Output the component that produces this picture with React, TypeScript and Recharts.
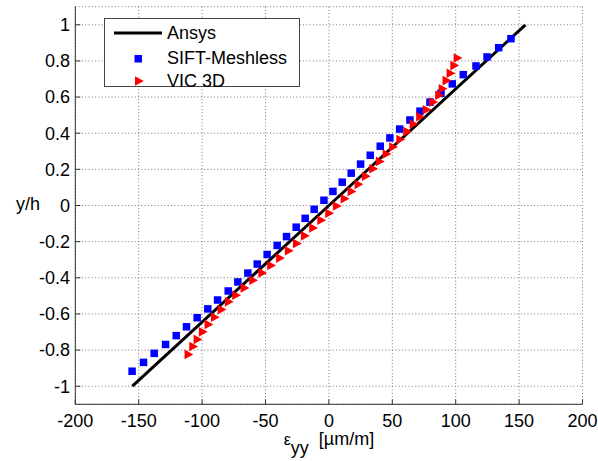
import { ScatterChart, Scatter, XAxis, YAxis, CartesianGrid, Legend } from 'recharts';

const ansysX = [-155, 0, 155];
const ansysY = [-1, 0, 1];

const siftX = [
  -155.2, -146.2, -137.8, -128.8, -120.4, -112.3, -103.9, -95.5, -87.8, -79.4,
  -71.8, -63.9, -56.5, -48.7, -40.8, -33.4, -25.8, -18.7, -11.6, -3.9,
  3.2, 10.5, 17.6, 25, 32.6, 40.5, 48.1, 55.8, 63.9, 71.8,
  79.7, 88.4, 97.3, 106, 116, 124.7, 133.9, 143.6,
];
const siftY = [
  -0.917, -0.868, -0.818, -0.769, -0.72, -0.671, -0.621, -0.572, -0.523, -0.473,
  -0.423, -0.374, -0.324, -0.271, -0.221, -0.172, -0.12, -0.071, -0.021, 0.029,
  0.078, 0.129, 0.179, 0.229, 0.278, 0.328, 0.374, 0.423, 0.473, 0.522,
  0.572, 0.621, 0.673, 0.724, 0.772, 0.822, 0.873, 0.923,
];

const vicX = [
  -110.7, -107, -103.6, -99.4, -94.9, -89.9, -84.6, -78.9, -73.1, -66.5,
  -59.7, -52.5, -45.5, -38.5, -31.6, -25.2, -18.9, -12.4, -6, 0.3,
  6.3, 12.4, 17.9, 23.4, 29.2, 35, 40.2, 45.5, 50.7, 56.3,
  61.8, 66.8, 72, 77.1, 82.3, 87, 89.7, 92.8, 96, 98.9, 101.5,
];
const vicY = [
  -0.824, -0.78, -0.741, -0.699, -0.658, -0.618, -0.576, -0.533, -0.497, -0.456,
  -0.414, -0.373, -0.332, -0.291, -0.25, -0.21, -0.168, -0.124, -0.082, -0.043,
  -0.003, 0.037, 0.078, 0.117, 0.162, 0.203, 0.244, 0.285, 0.324, 0.365,
  0.409, 0.451, 0.491, 0.53, 0.572, 0.61, 0.646, 0.691, 0.732, 0.774, 0.816,
];

const xTicks = [-200, -150, -100, -50, 0, 50, 100, 150, 200];
const yTicks = [-1, -0.8, -0.6, -0.4, -0.2, 0, 0.2, 0.4, 0.6, 0.8, 1];

const toPoints = (xs: number[], ys: number[]) => xs.map((x, i) => ({ x, y: ys[i] }));

const ansys = toPoints(ansysX, ansysY);
const sift = toPoints(siftX, siftY);
const vic = toPoints(vicX, vicY);

const FONT = '"Liberation Sans", Arial, sans-serif';
const AXIS = '#333';

const Square = (p: any) => (
  <rect x={p.cx - 3.75} y={p.cy - 3.75} width={7.5} height={7.5} fill="#0000ff" />
);

const Triangle = (p: any) => (
  <polygon
    points={`${p.cx - 4},${p.cy - 4.8} ${p.cx - 4},${p.cy + 4.8} ${p.cx + 4.8},${p.cy}`}
    fill="#ff0000"
  />
);

function LegendBox() {
  return (
    <div
      style={{
        width: 196,
        height: 69,
        boxSizing: 'border-box',
        border: '1px solid #444',
        background: '#fff',
        position: 'relative',
        fontFamily: FONT,
        fontSize: 18,
        color: '#000',
      }}
    >
      <svg width={60} height={69} style={{ position: 'absolute', left: 0, top: 0 }}>
        <line x1={9} y1={14} x2={57} y2={14} stroke="#000" strokeWidth={3} />
        <rect x={29.5} y={36} width={7.5} height={7.5} fill="#0000ff" />
        <polygon points="30,57.2 30,66.8 38.8,62" fill="#ff0000" />
      </svg>
      <div style={{ position: 'absolute', left: 62, top: 3, lineHeight: '22px' }}>Ansys</div>
      <div style={{ position: 'absolute', left: 62, top: 28, lineHeight: '22px' }}>SIFT-Meshless</div>
      <div style={{ position: 'absolute', left: 62, top: 51, lineHeight: '22px' }}>VIC 3D</div>
    </div>
  );
}

export default function App() {
  return (
    <div style={{ position: 'absolute', left: 0, top: 0, width: 598, height: 461, background: '#fff' }}>
      <ScatterChart
        width={598}
        height={461}
        margin={{ top: 6.7, right: 15.5, bottom: 0, left: 0 }}
        style={{ fontFamily: FONT }}
      >
        <CartesianGrid stroke="#777" strokeDasharray="1 2.3" />
        <XAxis
          type="number"
          dataKey="x"
          domain={[-200, 200]}
          ticks={xTicks}
          interval={0}
          allowDataOverflow
          height={56.7}
          stroke={AXIS}
          tickSize={-5}
          tickMargin={15}
          tick={{ fill: '#000', fontSize: 18, fontFamily: FONT }}
          label={{
            content: (props: any) => {
              const vb = props.viewBox;
              return (
                <text
                  x={vb.x + vb.width / 2}
                  y={vb.y + 41}
                  textAnchor="middle"
                  fontSize={18}
                  fontFamily={FONT}
                  fill="#000"
                >
                  <tspan fontSize={16}>ε</tspan>
                  <tspan dy={9}>yy</tspan>
                  <tspan dx={10} dy={-9}>[µm/m]</tspan>
                </text>
              );
            },
          }}
        />
        <XAxis
          xAxisId="top"
          orientation="top"
          type="number"
          domain={[-200, 200]}
          ticks={xTicks}
          interval={0}
          height={0}
          stroke={AXIS}
          tickSize={-5}
          tick={false}
        />
        <YAxis
          type="number"
          dataKey="y"
          domain={[-1.1, 1.1]}
          ticks={yTicks}
          interval={0}
          allowDataOverflow
          width={75.3}
          stroke={AXIS}
          tickSize={-5}
          tickMargin={10.3}
          tick={{ fill: '#000', fontSize: 18, fontFamily: FONT }}
          label={{
            content: (props: any) => {
              const vb = props.viewBox;
              return (
                <text
                  x={28}
                  y={vb.y + vb.height / 2 + 4}
                  textAnchor="middle"
                  fontSize={18}
                  fontFamily={FONT}
                  fill="#000"
                >
                  y/h
                </text>
              );
            },
          }}
        />
        <YAxis
          yAxisId="right"
          orientation="right"
          type="number"
          domain={[-1.1, 1.1]}
          ticks={yTicks}
          interval={0}
          width={0}
          stroke={AXIS}
          tickSize={-5}
          tick={false}
        />
        <Legend
          layout="vertical"
          align="center"
          verticalAlign="middle"
          wrapperStyle={{ position: 'absolute', left: 104, top: 18, width: 196, height: 69 }}
          content={() => <LegendBox />}
        />
        <Scatter
          name="Ansys"
          data={ansys}
          line={{ stroke: '#000', strokeWidth: 3 }}
          shape={() => <g />}
          isAnimationActive={false}
        />
        <Scatter name="SIFT-Meshless" data={sift} shape={Square} isAnimationActive={false} />
        <Scatter name="VIC 3D" data={vic} shape={Triangle} isAnimationActive={false} />
      </ScatterChart>
    </div>
  );
}
